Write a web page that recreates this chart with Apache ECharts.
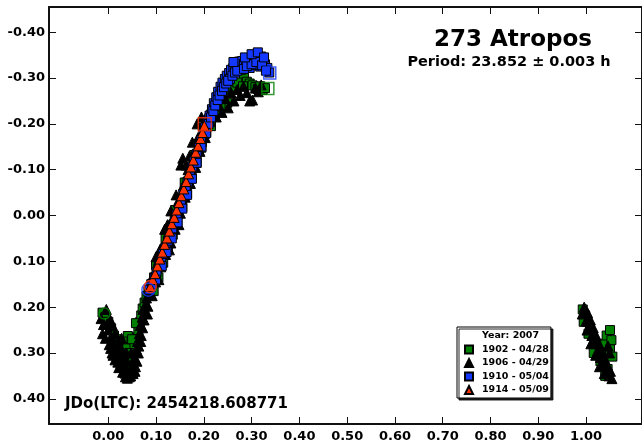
<!DOCTYPE html>
<html><head><meta charset="utf-8">
<script src="https://cdn.jsdelivr.net/npm/echarts@6/dist/echarts.min.js"></script>
<style>html,body{margin:0;padding:0;background:#fff}#c{width:642px;height:445px}</style>
</head><body><div id="c"></div>
<script>
// ---- tick labels ----
const xTicks = [0, 0.1, 0.2, 0.3, 0.4, 0.5, 0.6, 0.7, 0.8, 0.9, 1.0];
const yTicks = [-0.4, -0.3, -0.2, -0.1, 0, 0.1, 0.2, 0.3, 0.4];

// ---- series names ----
const legendTitle = 'Year: 2007';
const names = ['1902 - 04/28', '1906 - 04/29', '1910 - 05/04', '1914 - 05/09'];

// ---- data: [phase, magnitude] ----
const s1902 = [
  [-0.012,0.212],[-0.006,0.222],[0.000,0.232],[0.006,0.246],[0.012,0.262],[0.016,0.276],[0.020,0.290],
  [0.024,0.300],[0.028,0.312],[0.032,0.325],[0.036,0.336],[0.040,0.344],[0.044,0.340],[0.048,0.330],
  [0.051,0.315],[0.054,0.300],[0.057,0.284],[0.060,0.266],[0.063,0.250],[0.066,0.233],[0.069,0.218],
  [0.072,0.203],[0.076,0.190],[0.080,0.176],[0.084,0.166],[0.018,0.270],[0.041,0.263],[0.046,0.282],
  [0.030,0.275],[0.036,0.290],[0.026,0.330],[0.034,0.345],[0.044,0.300],[0.050,0.270],[0.058,0.235],
  [0.090,0.150],[0.096,0.135],[0.102,0.118],[0.108,0.100],[0.112,0.090],[0.118,0.072],[0.124,0.056],
  [0.130,0.036],[0.136,0.020],[0.142,0.000],[0.148,-0.015],[0.154,-0.035],[0.160,-0.052],[0.166,-0.070],
  [0.172,-0.088],[0.178,-0.110],[0.184,-0.125],[0.190,-0.145],[0.196,-0.160],[0.202,-0.178],[0.208,-0.195],
  [0.214,-0.212],[0.220,-0.228],[0.226,-0.243],[0.232,-0.256],[0.238,-0.268],[0.249,-0.246],
  [0.095,0.165],[0.105,0.135],[0.115,0.103],[0.125,0.072],[0.135,0.042],[0.145,0.012],[0.155,-0.018],
  [0.165,-0.048],[0.175,-0.082],[0.185,-0.115],[0.195,-0.148],[0.205,-0.182],[0.215,-0.195],[0.225,-0.225],
  [0.235,-0.238],[0.100,0.108],[0.120,0.050],[0.140,-0.012],[0.160,-0.072],[0.180,-0.132],
  [0.244,-0.290],[0.250,-0.300],[0.256,-0.310],[0.262,-0.320],[0.268,-0.330],[0.274,-0.336],[0.279,-0.330],
  [0.284,-0.300],[0.290,-0.292],[0.296,-0.288],[0.302,-0.284],[0.308,-0.280],[0.313,-0.276],[0.318,-0.282],
  [0.323,-0.274],[0.328,-0.278],[0.258,-0.275],[0.270,-0.290],[0.282,-0.282],
  [0.993,0.205],[0.998,0.218],[1.003,0.232],[1.008,0.246],[1.013,0.262],[1.018,0.280],[1.023,0.296],
  [1.030,0.318],[1.036,0.300],[1.040,0.280],[1.043,0.262],[1.050,0.250],[1.053,0.272],[1.050,0.292],
  [1.055,0.308],[1.045,0.335],[1.040,0.350],[0.995,0.232],[1.005,0.258],[1.016,0.300]
];
const s1906 = [
  [-0.015,0.225],[-0.010,0.238],[-0.004,0.205],[0.000,0.250],[0.003,0.225],[0.006,0.265],[0.009,0.240],
  [0.012,0.280],[0.015,0.258],[0.018,0.295],[0.021,0.272],[0.024,0.310],[0.027,0.290],[0.030,0.322],
  [0.033,0.305],[0.036,0.335],[0.039,0.318],[0.042,0.345],[0.045,0.338],[0.047,0.350],[0.050,0.340],
  [0.052,0.325],[0.055,0.310],[0.057,0.330],[0.059,0.292],[0.061,0.275],[0.063,0.300],[0.065,0.258],
  [0.067,0.240],[0.069,0.262],[0.071,0.222],[0.073,0.205],[0.075,0.228],[0.078,0.195],[0.080,0.180],
  [0.083,0.198],[0.005,0.290],[0.010,0.305],[0.020,0.320],
  [-0.012,0.258],[-0.006,0.268],[0.002,0.282],[0.008,0.300],[0.014,0.315],[0.022,0.332],[0.030,0.342],
  [0.036,0.352],[0.040,0.355],[0.044,0.352],[0.038,0.300],[0.028,0.268],[0.048,0.300],[0.052,0.345],
  [0.056,0.340],[0.060,0.318],[0.064,0.285],[0.068,0.275],[0.072,0.245],[0.076,0.212],[0.082,0.215],
  [-0.002,0.238],[0.016,0.285],[0.026,0.312],[0.034,0.330],
  [0.088,0.170],[0.094,0.130],[0.099,0.145],[0.104,0.100],[0.110,0.112],[0.114,0.070],[0.120,0.085],
  [0.126,0.040],[0.131,0.060],[0.136,0.005],[0.140,0.030],[0.146,-0.030],[0.151,-0.005],[0.157,-0.065],
  [0.161,-0.040],[0.167,-0.100],[0.172,-0.070],[0.178,-0.135],[0.183,-0.105],[0.188,-0.170],[0.192,-0.140],
  [0.198,-0.200],[0.203,-0.170],[0.208,-0.222],[0.214,-0.205],[0.156,-0.125],[0.152,-0.110],[0.186,-0.200],
  [0.131,-0.010],[0.118,0.030],[0.100,0.090],[0.108,0.075],[0.124,0.020],[0.142,-0.045],[0.163,-0.110],
  [0.170,-0.130],[0.176,-0.160],[0.195,-0.215],[0.092,0.175],[0.106,0.140],[0.128,0.075],[0.148,0.020],
  [0.226,-0.215],[0.232,-0.240],[0.238,-0.225],[0.245,-0.255],[0.251,-0.235],[0.257,-0.268],[0.263,-0.250],
  [0.270,-0.275],[0.276,-0.262],[0.283,-0.282],[0.290,-0.268],[0.296,-0.250],[0.302,-0.252],[0.308,-0.278],
  [0.314,-0.270],[0.320,-0.285],
  [0.992,0.215],[0.996,0.200],[1.000,0.230],[1.003,0.212],[1.006,0.245],[1.009,0.228],[1.012,0.262],
  [1.015,0.245],[1.018,0.278],[1.021,0.262],[1.024,0.295],[1.027,0.280],[1.030,0.310],[1.033,0.298],
  [1.036,0.325],[1.039,0.312],[1.042,0.340],[1.045,0.328],[1.048,0.350],[1.051,0.340],[1.054,0.356],
  [1.049,0.300],[1.046,0.285],[1.002,0.250],[1.010,0.280],[1.020,0.305],[1.028,0.330],[1.038,0.345]
];
const s1910 = [
  [0.086,0.162],[0.092,0.150],[0.097,0.137],[0.101,0.124],[0.106,0.110],[0.111,0.097],[0.115,0.084],
  [0.120,0.070],[0.125,0.055],[0.129,0.043],[0.134,0.028],[0.139,0.012],[0.143,-0.002],[0.148,-0.017],
  [0.152,-0.030],[0.157,-0.046],[0.162,-0.060],[0.166,-0.074],[0.171,-0.090],[0.176,-0.105],[0.180,-0.118],
  [0.185,-0.134],[0.190,-0.150],[0.194,-0.165],[0.199,-0.180],[0.203,-0.192],[0.208,-0.207],[0.212,-0.218],
  [0.217,-0.232],[0.221,-0.245],[0.226,-0.258],[0.230,-0.270],[0.235,-0.281],[0.239,-0.290],[0.244,-0.298],
  [0.248,-0.305],[0.253,-0.311],[0.257,-0.318],[0.262,-0.322],[0.266,-0.327],[0.271,-0.331],[0.275,-0.334],
  [0.280,-0.337],[0.284,-0.331],[0.289,-0.340],[0.293,-0.336],[0.298,-0.343],[0.302,-0.339],[0.307,-0.345],
  [0.311,-0.350],[0.315,-0.342],[0.320,-0.347],[0.324,-0.336],[0.328,-0.330],[0.333,-0.322],[0.337,-0.312],
  [0.255,-0.298],[0.278,-0.318],[0.296,-0.322],[0.318,-0.325],[0.305,-0.328],
  [0.100,0.140],[0.112,0.110],[0.122,0.080],[0.133,0.050],[0.145,0.015],[0.155,-0.015],[0.165,-0.045],
  [0.175,-0.080],[0.185,-0.115],[0.195,-0.150],[0.205,-0.180],
  [0.210,-0.200],[0.215,-0.214],[0.220,-0.228],[0.224,-0.240],[0.229,-0.252],[0.233,-0.262],[0.238,-0.272],
  [0.242,-0.280],[0.247,-0.288],[0.251,-0.294],[0.260,-0.305],[0.265,-0.312],[0.270,-0.316],[0.284,-0.320],
  [0.290,-0.326],[0.300,-0.330],[0.310,-0.335],[0.322,-0.328],[0.330,-0.316],[0.262,-0.335],[0.286,-0.345],
  [0.300,-0.352],[0.313,-0.356],[0.326,-0.345]
];
const s1914 = [
  [0.088,0.155],[0.093,0.140],[0.098,0.127],[0.103,0.110],[0.108,0.095],[0.113,0.080],[0.118,0.063],
  [0.123,0.049],[0.128,0.034],[0.133,0.018],[0.138,0.004],[0.143,-0.012],[0.148,-0.028],[0.153,-0.043],
  [0.158,-0.058],[0.163,-0.074],[0.168,-0.091],[0.173,-0.106],[0.178,-0.121],[0.183,-0.138],[0.188,-0.152],
  [0.193,-0.168],[0.197,-0.181],[0.201,-0.196]
];
// first / last observation markers (open symbols)
const firstPts = { g: [[-0.008,0.214]], b: [[0.084,0.162]], r: [[0.088,0.155]] };
const lastPts  = { g: [[0.334,-0.277]], b: [[0.338,-0.311]], r: [[0.202,-0.199]] };

const FONT = "'DejaVu Sans', sans-serif";
const GREEN = '#008000', BLUE = '#1438ff', RED = '#ff3300', BLACK = '#000000';

function filled(name, data, symbol, color, size) {
  return { name, type: 'scatter', data, symbol, symbolSize: size,
    itemStyle: { color, borderColor: '#000', borderWidth: 1, opacity: 1 }, z: 2 };
}
function open(name, data, symbol, color, size) {
  return { name, type: 'scatter', data, symbol, symbolSize: size,
    itemStyle: { color: 'rgba(0,0,0,0)', borderColor: color, borderWidth: 1.5 }, z: 4 };
}

const chart = echarts.init(document.getElementById('c'), null, { renderer: 'canvas' });
const axisLine = { show: true, onZero: false, lineStyle: { color: '#111', width: 2 } };
const label = { fontFamily: FONT, fontWeight: 'bold', fontSize: 13, color: '#000' };

chart.setOption({
  animation: false,
  backgroundColor: '#fff',
  grid: { left: 49, top: 7, width: 594, height: 417 },
  xAxis: [
    { type: 'value', min: -0.124, max: 1.117, position: 'bottom', axisLine,
      axisTick: { inside: true, length: 7, customValues: xTicks, lineStyle: { color: '#111' } },
      axisLabel: Object.assign({ customValues: xTicks, margin: 6, formatter: v => v.toFixed(2) }, label),
      splitLine: { show: false } },
    { type: 'value', min: -0.124, max: 1.117, position: 'top', axisLine,
      axisTick: { inside: true, length: 7, customValues: xTicks, lineStyle: { color: '#111' } },
      axisLabel: { show: false }, splitLine: { show: false } }
  ],
  yAxis: [
    { type: 'value', min: -0.455, max: 0.455, inverse: true, position: 'left', axisLine,
      axisTick: { inside: true, length: 7, customValues: yTicks, lineStyle: { color: '#111' } },
      axisLabel: Object.assign({ customValues: yTicks, margin: 4, formatter: v => v.toFixed(2) }, label),
      splitLine: { show: false } },
    { type: 'value', min: -0.455, max: 0.455, inverse: true, position: 'right', axisLine,
      axisTick: { inside: true, length: 7, customValues: yTicks, lineStyle: { color: '#111' } },
      axisLabel: { show: false }, splitLine: { show: false } }
  ],
  legend: {
    left: 457, top: 327, orient: 'vertical', selectedMode: false,
    data: [{ name: legendTitle, icon: 'none' }].concat(names),
    itemWidth: 8, itemHeight: 8, itemGap: 3.5,
    padding: [4, 2, 3, 7],
    backgroundColor: '#fff', borderColor: '#000', borderWidth: 1,
    shadowColor: 'rgba(0,0,0,0.85)', shadowBlur: 0, shadowOffsetX: 2, shadowOffsetY: 2,
    textStyle: { fontFamily: FONT, fontWeight: 'bold', fontSize: 9.5, color: '#000', lineHeight: 9, padding: [0, 0, 0, 4] }
  },
  graphic: [
    { type: 'text', x: 513, y: 40, style: { text: '273 Atropos', font: "bold 23px 'DejaVu Sans'", fill: '#000', textAlign: 'center', textVerticalAlign: 'middle' } },
    { type: 'text', x: 509, y: 62, style: { text: 'Period: 23.852 ± 0.003 h', font: "bold 14.5px 'DejaVu Sans'", fill: '#000', textAlign: 'center', textVerticalAlign: 'middle' } },
    { type: 'text', x: 65, y: 404, style: { text: 'JDo(LTC): 2454218.608771', font: "bold 15px 'DejaVu Sans'", fill: '#000', textAlign: 'left', textVerticalAlign: 'middle' } }
  ],
  series: [
    { name: legendTitle, type: 'scatter', data: [] },
    filled(names[0], s1902, 'rect', GREEN, 9),
    filled(names[1], s1906, 'triangle', BLACK, 10),
    filled(names[2], s1910, 'rect', BLUE, 9),
    filled(names[3], s1914, 'triangle', RED, 10),
    open('g1', firstPts.g, 'circle', GREEN, 11),
    open('b1', firstPts.b, 'circle', BLUE, 13),
    open('r1', firstPts.r, 'circle', RED, 12),
    open('g2', lastPts.g, 'rect', GREEN, 12),
    open('b2', lastPts.b, 'rect', BLUE, 12),
    open('r2', lastPts.r, 'rect', RED, 13)
  ]
});
</script></body></html>
